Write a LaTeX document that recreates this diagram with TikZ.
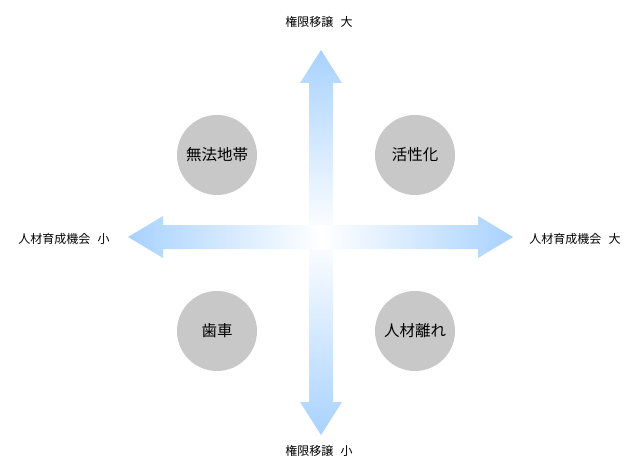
\documentclass[tikz,border=0pt]{standalone}
\usepackage{fontspec}
\newfontfamily\cjk{Noto Sans CJK JP}
\definecolor{arrowblue}{RGB}{168,210,255}
\definecolor{circgray}{RGB}{200,200,200}
\begin{document}
\begin{tikzpicture}[x=1pt,y=-1pt,
  bubble/.style={circle,fill=circgray,minimum size=80pt,inner sep=0pt,font=\cjk\fontsize{15.5}{18}\selectfont},
  axislabel/.style={font=\cjk\fontsize{12}{14}\selectfont,inner sep=0pt}]
\useasboundingbox (0,0) rectangle (640,476);
\coordinate (c) at (321,237);
% vertical arms
\shade[top color=arrowblue,bottom color=white,middle color=arrowblue!50]
  (309,237) -- (309,83) -- (300,83) -- (321,50) -- (342,83) -- (333,83) -- (333,237) -- cycle;
\shade[top color=white,bottom color=arrowblue,middle color=arrowblue!50]
  (309,237) -- (309,402) -- (300,402) -- (321,435) -- (342,402) -- (333,402) -- (333,237) -- cycle;
% horizontal arms
\shade[left color=arrowblue,right color=white,middle color=arrowblue!50]
  (321,225) -- (163,225) -- (163,216) -- (128,237) -- (163,258) -- (163,249) -- (321,249) -- cycle;
\shade[left color=white,right color=arrowblue,middle color=arrowblue!50]
  (321,225) -- (478,225) -- (478,216) -- (513,237) -- (478,258) -- (478,249) -- (321,249) -- cycle;
% circles
\node[bubble] (q1) at (217,155) {無法地帯};
\node[bubble] (q2) at (415,155) {活性化};
\node[bubble] (q3) at (217,331) {歯車};
\node[bubble] (q4) at (415,331) {人材離れ};
% labels
\node[axislabel] (top) at (319,22) {権限移譲\hspace{0.6em}大};
\node[axislabel] (bot) at (319,451) {権限移譲\hspace{0.6em}小};
\node[axislabel] (lft) at (64,239) {人材育成機会\hspace{0.6em}小};
\node[axislabel] (rgt) at (575,239) {人材育成機会\hspace{0.6em}大};
\end{tikzpicture}
\end{document}
